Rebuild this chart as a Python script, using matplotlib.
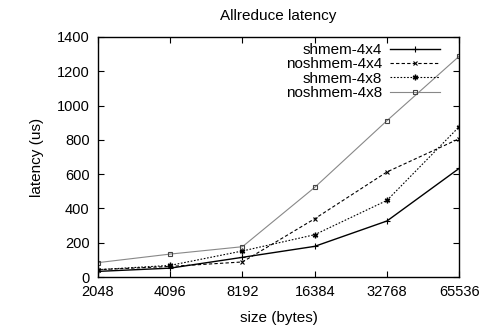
import matplotlib
matplotlib.use('Agg')
import matplotlib.pyplot as plt
from matplotlib.ticker import FixedLocator, FixedFormatter, NullLocator

plt.rcParams['font.family'] = ['Liberation Sans', 'DejaVu Sans']

sizes = [2048, 4096, 8192, 16384, 32768, 65536]
shmem_4x4 = [33, 52, 115, 179, 327, 634]
noshmem_4x4 = [43, 62, 88, 340, 613, 807]
shmem_4x8 = [43, 68, 152, 247, 447, 877]
noshmem_4x8 = [84, 134, 177, 523, 912, 1288]
yticks = [0, 200, 400, 600, 800, 1000, 1200, 1400]

fig = plt.figure(figsize=(4.87, 3.33), dpi=100)
ax = fig.add_axes([0.201, 0.168, 0.742, 0.721])

ax.plot(sizes, shmem_4x4, color='black', lw=1.0, marker='+', ms=4, mew=0.8,
        label='shmem-4x4')
ax.plot(sizes, noshmem_4x4, color='black', lw=0.8, ls=(0, (3, 2)), marker='x',
        ms=3.5, mew=0.8, label='noshmem-4x4')
ax.plot(sizes, shmem_4x8, color='black', lw=0.8, ls=(0, (1.5, 1.5)), marker=(6, 2, 0),
        ms=4, mew=1.0, label='shmem-4x8')
ax.plot(sizes, noshmem_4x8, color='#888888', lw=0.8, marker='s', ms=3.5,
        mfc='none', mec='#444444', mew=0.8, label='noshmem-4x8')

ax.set_xscale('log', base=2)
ax.set_xlim(2048, 65536)
ax.xaxis.set_major_locator(FixedLocator(sizes))
ax.xaxis.set_major_formatter(FixedFormatter([str(s) for s in sizes]))
ax.xaxis.set_minor_locator(NullLocator())
ax.set_ylim(0, 1400)
ax.set_yticks(yticks)

ax.tick_params(direction='in', top=True, right=True, length=4, width=0.8,
               labelsize=10.5, pad=6)
for s in ax.spines.values():
    s.set_linewidth(1.0)

ax.set_xlabel('size (bytes)', fontsize=11, labelpad=8)
ax.set_ylabel('latency (us)', fontsize=11, labelpad=9)
ax.set_title('Allreduce latency', fontsize=11, pad=12)

ax.legend(loc='upper right', bbox_to_anchor=(0.964, 1.0), frameon=False,
          markerfirst=False, fontsize=11, handlelength=3.3, borderaxespad=0,
          labelspacing=0.02, handletextpad=0.5, borderpad=0.4)

fig.savefig('out.png', dpi=100)
